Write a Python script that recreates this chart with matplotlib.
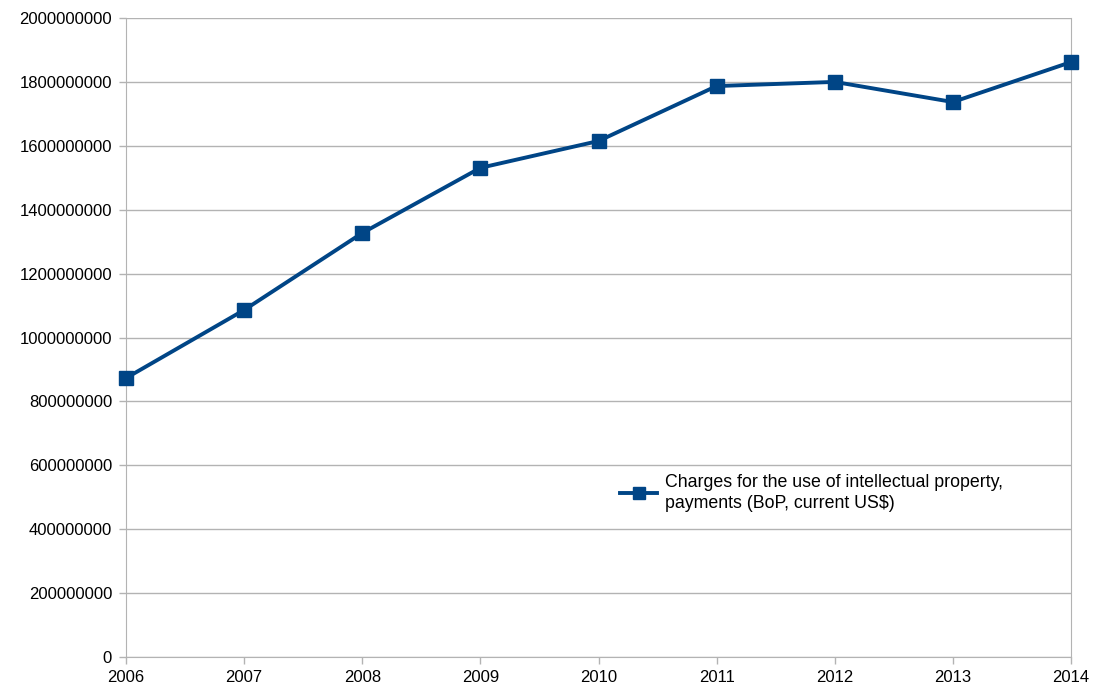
import matplotlib
matplotlib.use("Agg")
import matplotlib.pyplot as plt
from matplotlib.ticker import FuncFormatter

years = [2006, 2007, 2008, 2009, 2010, 2011, 2012, 2013, 2014]
values = [873e6, 1086e6, 1327e6, 1531e6, 1615e6, 1787e6, 1800e6, 1737e6, 1862e6]
series_label = "Charges for the use of intellectual property,\npayments (BoP, current US$)"
yticks = list(range(0, 2000000001, 200000000))

plt.rcParams['font.family'] = ['Liberation Sans', 'DejaVu Sans']
fig = plt.figure(figsize=(11.04, 6.91), dpi=100)
ax = fig.add_axes([126/1104, 1-657/691, (1071-126)/1104, (657-18)/691])

color = "#004586"
ax.plot(years, values, color=color, linewidth=2.8, marker='s', markersize=10,
        label=series_label, clip_on=False, zorder=5)

ax.set_xlim(2006, 2014)
ax.set_ylim(0, 2e9)
ax.set_xticks(years)
ax.set_yticks(yticks)
ax.yaxis.set_major_formatter(FuncFormatter(lambda v, p: f"{int(round(v))}"))
ax.grid(axis='y', color='#b3b3b3', linewidth=1)
ax.set_axisbelow(True)
for s in ['left', 'right']:
    ax.spines[s].set_color('#b3b3b3')
ax.spines['bottom'].set_color('#b3b3b3')
ax.spines['top'].set_visible(False)
ax.tick_params(axis='both', colors='#b3b3b3', labelcolor='black', labelsize=12,
               length=5, width=1, direction='out')
ax.tick_params(axis='x', pad=4)
ax.tick_params(axis='y', pad=5)

leg = fig.legend(loc='center left', bbox_to_anchor=(613/1104, 1-493/691), frameon=False,
                 fontsize=12.8, handlelength=2.1, handletextpad=0.45, borderaxespad=0)
for t in leg.get_texts():
    t.set_linespacing(1.3)
for h in leg.legend_handles:
    h.set_markersize(9)

fig.savefig("out.png", dpi=100)
